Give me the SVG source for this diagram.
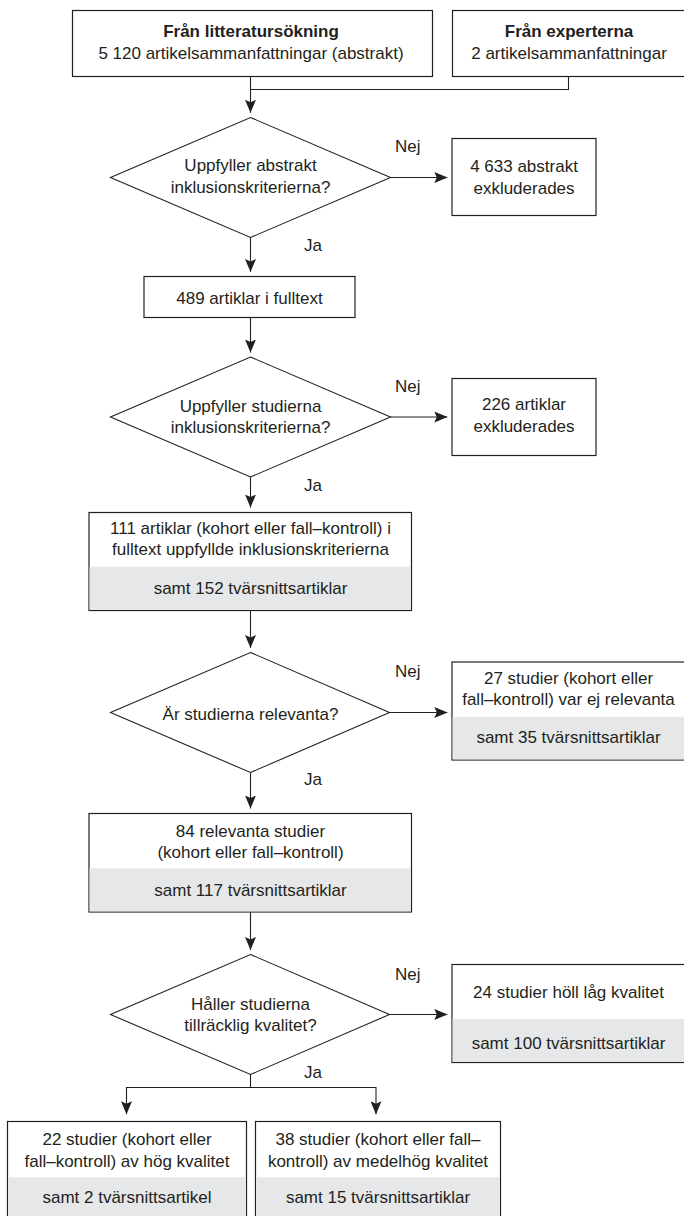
<svg xmlns="http://www.w3.org/2000/svg" width="684" height="1216" viewBox="0 0 684 1216">
<style>
.box{fill:#fff;stroke:#231f20;stroke-width:1.2}
.gray{fill:#e6e7e8;stroke:none}
.dia{fill:#fff;stroke:#231f20;stroke-width:1.1}
.con{fill:none;stroke:#231f20;stroke-width:1.1}
.arr{fill:none;stroke:#231f20;stroke-width:1.1;marker-end:url(#ah)}
text{font-family:"Liberation Sans",Arial,sans-serif;font-size:17px;fill:#231f20;text-anchor:middle}
.b{font-weight:bold}
.lbl{text-anchor:start}
</style>
<defs>
<marker id="ah" viewBox="0 0 13 11" refX="13" refY="5.5" markerWidth="13" markerHeight="11" markerUnits="userSpaceOnUse" orient="auto">
<path d="M0,0 L13,5.5 L0,11 L2.5,5.5 Z" fill="#231f20"/>
</marker>
</defs>
<rect width="684" height="1216" fill="#fff"/>

<g id="connectors">
<path class="con" d="M250.5,76.5 V89.5 H568.5 V76.5"/>
<path class="arr" d="M250.5,89.5 V112.8"/>
<path class="arr" d="M390.5,177.5 H447.3"/>
<path class="arr" d="M250.5,237.5 V272"/>
<path class="arr" d="M250.5,317.5 V352.5"/>
<path class="arr" d="M390.5,417 H447.3"/>
<path class="arr" d="M250.5,477 V507.5"/>
<path class="arr" d="M250.5,610.5 V648"/>
<path class="arr" d="M389.5,712.5 H447.3"/>
<path class="arr" d="M250.5,772.5 V808.5"/>
<path class="arr" d="M250.5,912 V950"/>
<path class="arr" d="M389.5,1014.5 H447.3"/>
<path class="con" d="M250.5,1074.5 V1087.5 M126.5,1087.5 H376"/>
<path class="arr" d="M126.5,1087 V1114.3"/>
<path class="arr" d="M376,1087 V1114.3"/>
<text class="lbl" x="395" y="152">Nej</text>
<text class="lbl" x="304" y="251">Ja</text>
<text class="lbl" x="395" y="392">Nej</text>
<text class="lbl" x="304" y="491">Ja</text>
<text class="lbl" x="395" y="677">Nej</text>
<text class="lbl" x="304" y="785">Ja</text>
<text class="lbl" x="395" y="980">Nej</text>
<text class="lbl" x="304" y="1078">Ja</text>
</g>

<g id="n-litteratur">
<rect class="box" x="72.5" y="10.5" width="360" height="66"/>
<text class="b" x="251" y="37">Från litteratursökning</text>
<text x="251" y="58.5">5 120 artikelsammanfattningar (abstrakt)</text>
</g>

<g id="n-experter">
<rect class="box" x="452.5" y="10.5" width="240" height="66"/>
<text class="b" x="569" y="37">Från experterna</text>
<text x="569" y="58.5">2 artikelsammanfattningar</text>
</g>

<g id="d-abstrakt">
<polygon class="dia" points="250.5,117.5 390.5,177.5 250.5,237.5 110.5,177.5"/>
<text x="250.5" y="171">Uppfyller abstrakt</text>
<text x="250.5" y="192.5">inklusionskriterierna?</text>
</g>

<g id="n-4633">
<rect class="box" x="452" y="138.5" width="144" height="77"/>
<text x="524" y="172">4 633 abstrakt</text>
<text x="524" y="193.5">exkluderades</text>
</g>

<g id="n-489">
<rect class="box" x="144" y="276.5" width="211" height="41"/>
<text x="249.5" y="303.5">489 artiklar i fulltext</text>
</g>

<g id="d-studier">
<polygon class="dia" points="250.5,357 390.5,417 250.5,477 110.5,417"/>
<text x="250.5" y="411.5">Uppfyller studierna</text>
<text x="250.5" y="433">inklusionskriterierna?</text>
</g>

<g id="n-226">
<rect class="box" x="452" y="378.5" width="144" height="77"/>
<text x="524" y="410">226 artiklar</text>
<text x="524" y="431.5">exkluderades</text>
</g>

<g id="n-111">
<rect class="box" x="89" y="512.5" width="322.5" height="98"/>
<rect class="gray" x="89.6" y="566.7" width="321.3" height="43.2"/>
<text x="250.5" y="533.5">111 artiklar (kohort eller fall–kontroll) i</text>
<text x="250.5" y="555">fulltext uppfyllde inklusionskriterierna</text>
<text x="250.5" y="594">samt 152 tvärsnittsartiklar</text>
</g>

<g id="d-relevanta">
<polygon class="dia" points="250.5,652.5 389.5,712.5 250.5,772.5 110.5,712.5"/>
<text x="250.5" y="720">Är studierna relevanta?</text>
</g>

<g id="n-27">
<rect class="box" x="452" y="662" width="240" height="98"/>
<rect class="gray" x="452.6" y="716.8" width="240" height="42.6"/>
<text x="568.5" y="683.5">27 studier (kohort eller</text>
<text x="568.5" y="705">fall–kontroll) var ej relevanta</text>
<text x="568.5" y="742.5">samt 35 tvärsnittsartiklar</text>
</g>

<g id="n-84">
<rect class="box" x="89" y="813.5" width="322.5" height="98.5"/>
<rect class="gray" x="89.6" y="868.3" width="321.3" height="43.1"/>
<text x="250.5" y="836.5">84 relevanta studier</text>
<text x="250.5" y="857.5">(kohort eller fall–kontroll)</text>
<text x="250.5" y="896">samt 117 tvärsnittsartiklar</text>
</g>

<g id="d-kvalitet">
<polygon class="dia" points="250.5,954.5 389.5,1014.5 250.5,1074.5 110.5,1014.5"/>
<text x="250.5" y="1010">Håller studierna</text>
<text x="250.5" y="1031">tillräcklig kvalitet?</text>
</g>

<g id="n-24">
<rect class="box" x="452" y="964.5" width="240" height="98"/>
<rect class="gray" x="452.6" y="1019" width="240" height="43"/>
<text x="568.5" y="998">24 studier höll låg kvalitet</text>
<text x="568.5" y="1049">samt 100 tvärsnittsartiklar</text>
</g>

<g id="n-22">
<rect class="box" x="7.5" y="1121.5" width="239" height="110"/>
<rect class="gray" x="8.1" y="1177.3" width="237.8" height="50"/>
<text x="127" y="1145">22 studier (kohort eller</text>
<text x="127" y="1166.5">fall–kontroll) av hög kvalitet</text>
<text x="127" y="1203">samt 2 tvärsnittsartikel</text>
</g>

<g id="n-38">
<rect class="box" x="255.5" y="1121.5" width="245" height="110"/>
<rect class="gray" x="256.1" y="1177.3" width="243.8" height="50"/>
<text x="378" y="1145">38 studier (kohort eller fall–</text>
<text x="378" y="1166.5">kontroll) av medelhög kvalitet</text>
<text x="378" y="1203">samt 15 tvärsnittsartiklar</text>
</g>
</svg>
